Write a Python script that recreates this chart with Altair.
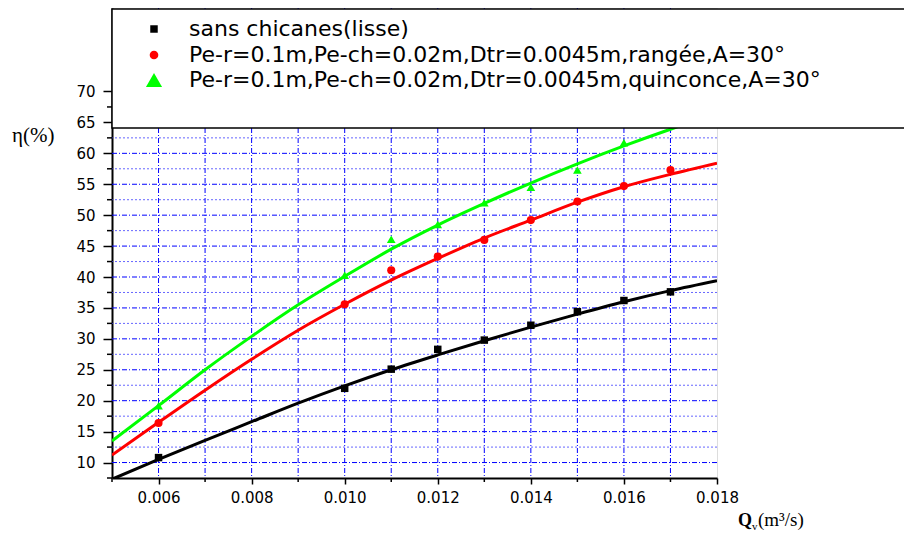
import altair as alt
import pandas as pd

# ---------------- data ----------------
series_names = [
    "sans chicanes(lisse)",
    "Pe-r=0.1m,Pe-ch=0.02m,Dtr=0.0045m,rangée,A=30°",
    "Pe-r=0.1m,Pe-ch=0.02m,Dtr=0.0045m,quinconce,A=30°",
]
series_colors = ["#000000", "#ff0000", "#00ff00"]
series_shapes = ["square", "circle", "triangle-up"]
series_sizes = [56, 75, 260]

# fitted curves
x_fit = [0.005, 0.006, 0.007, 0.008, 0.009, 0.010, 0.011,
         0.012, 0.013, 0.014, 0.015, 0.016, 0.017, 0.018]
black_fit = [7.3, 10.5, 13.6, 16.6, 19.6, 22.4, 25.0, 27.4, 29.7, 31.9, 34.0, 36.0, 37.8, 39.4]
red_fit = [11.2, 16.5, 21.7, 26.7, 31.4, 35.6, 39.5, 43.0, 46.3, 49.2, 52.1, 54.6, 56.6, 58.4]
green_fit = [13.5, 19.2, 25.0, 30.4, 35.5, 40.1, 44.5, 48.4, 51.9, 55.2, 58.3, 61.2, 63.9, 66.4]

# measured points
black_x = [0.006, 0.010, 0.011, 0.012, 0.013, 0.014, 0.015, 0.016, 0.017]
black_y = [10.8, 22.0, 25.1, 28.3, 29.8, 32.2, 34.4, 36.2, 37.6]
red_x = [0.006, 0.010, 0.011, 0.012, 0.013, 0.014, 0.015, 0.016, 0.017]
red_y = [16.4, 35.6, 41.1, 43.3, 46.0, 49.2, 52.2, 54.7, 57.3]
green_x = [0.006, 0.010, 0.011, 0.012, 0.013, 0.014, 0.015, 0.016]
green_y = [19.2, 40.3, 46.1, 48.5, 52.0, 54.5, 57.3, 61.7]

# axes / grid
x_major = [0.006, 0.008, 0.010, 0.012, 0.014, 0.016, 0.018]
x_minor = [0.005, 0.007, 0.009, 0.011, 0.013, 0.015, 0.017]
x_grid = [0.006, 0.007, 0.008, 0.009, 0.010, 0.011, 0.012, 0.013, 0.014, 0.015, 0.016, 0.017]
y_major = [10, 15, 20, 25, 30, 35, 40, 45, 50, 55, 60, 65, 70]
y_minor = [7.5, 12.5, 17.5, 22.5, 27.5, 32.5, 37.5, 42.5, 47.5, 52.5, 57.5, 62.5, 67.5]
y_grid_major = [10, 15, 20, 25, 30, 35, 40, 45, 50, 55, 60]
y_grid_minor = [12.5, 17.5, 22.5, 27.5, 32.5, 37.5, 42.5, 47.5, 52.5, 57.5, 62.5]

W, H = 605, 470

# ---------------- tables ----------------
fit_df = pd.DataFrame({
    "x": x_fit * 3,
    "y": black_fit + red_fit + green_fit,
    "s": [series_names[0]] * len(x_fit) + [series_names[1]] * len(x_fit) + [series_names[2]] * len(x_fit),
})
pts_df = pd.DataFrame({
    "x": black_x + red_x + green_x,
    "y": black_y + red_y + green_y,
    "s": [series_names[0]] * len(black_x) + [series_names[1]] * len(red_x) + [series_names[2]] * len(green_x),
})

xs = alt.Scale(domain=[0.005, 0.018], nice=False, zero=False)
ys = alt.Scale(domain=[7.5, 83.5], nice=False, zero=False)
cs = alt.Scale(domain=series_names, range=series_colors)
ss = alt.Scale(domain=series_names, range=series_shapes)
zs = alt.Scale(domain=series_names, range=series_sizes)

x_axis = alt.Axis(values=x_major, format=".3f", title=None, grid=False,
                  tickSize=6, tickWidth=1.5, tickColor="black",
                  domainWidth=2, domainColor="black",
                  labelFont="DejaVu Sans", labelFontSize=15, labelColor="black",
                  labelPadding=6, labelFlush=False, labelOverlap=False)
y_axis = alt.Axis(values=y_major, format="d", title=None, grid=False,
                  tickSize=9, tickWidth=1.5, tickColor="black",
                  domainWidth=2, domainColor="black",
                  labelFont="DejaVu Sans", labelFontSize=15, labelColor="black",
                  labelPadding=8, labelFlush=False, labelOverlap=False)


def X(field):
    return alt.X(field, scale=xs, axis=x_axis)


def Y(field):
    return alt.Y(field, scale=ys, axis=y_axis)


grid_v = alt.Chart(pd.DataFrame({"v": x_grid})).mark_rule(
    color="#0000ff", strokeWidth=1, strokeDash=[5, 2, 1, 2]
).encode(x=X("v:Q"))

grid_hM = alt.Chart(pd.DataFrame({"v": y_grid_major})).mark_rule(
    color="#0000ff", strokeWidth=1, strokeDash=[5, 2, 1, 2]
).encode(y=Y("v:Q"))

grid_hm = alt.Chart(pd.DataFrame({"v": y_grid_minor})).mark_rule(
    color="#3333ff", strokeWidth=1, strokeDash=[2, 2], opacity=0.75
).encode(y=Y("v:Q"))

minor_y = alt.Chart(pd.DataFrame({"v": y_minor})).mark_rule(
    color="black", strokeWidth=1.5
).encode(y=Y("v:Q"), x=alt.value(-5), x2=alt.value(0))

minor_x = alt.Chart(pd.DataFrame({"v": x_minor})).mark_rule(
    color="black", strokeWidth=1.5
).encode(x=X("v:Q"), y=alt.value(H), y2=alt.value(H + 4))

lines = alt.Chart(fit_df).mark_line(strokeWidth=3, clip=True, interpolate="monotone").encode(
    x=X("x:Q"),
    y=Y("y:Q"),
    color=alt.Color("s:N", scale=cs, legend=None),
    detail="s:N",
)

points = alt.Chart(pts_df).mark_point(filled=True, opacity=1).encode(
    x=X("x:Q"),
    y=Y("y:Q"),
    color=alt.Color("s:N", scale=cs, legend=None),
    shape=alt.Shape("s:N", scale=ss, legend=None),
    size=alt.Size("s:N", scale=zs, legend=None),
)

# legend box (drawn over the plot, as in the original)
box = alt.Chart(pd.DataFrame({"a": [0]})).mark_rect(
    fill="white", stroke="black", strokeWidth=1.5
).encode(x=alt.value(0), x2=alt.value(830), y=alt.value(1), y2=alt.value(120))

legend_layers = []
row_y = [21, 47, 72]
for i, name in enumerate(series_names):
    d = pd.DataFrame({"name": [name]})
    legend_layers.append(
        alt.Chart(d).mark_point(filled=True, opacity=1, shape=series_shapes[i],
                                size=series_sizes[i], color=series_colors[i])
        .encode(x=alt.value(42), y=alt.value(row_y[i]))
    )
    legend_layers.append(
        alt.Chart(d).mark_text(align="left", baseline="middle", font="DejaVu Sans",
                               fontSize=22, color="black")
        .encode(x=alt.value(77), y=alt.value(row_y[i]), text="name:N")
    )

titles_df = pd.DataFrame({"t": ["η(%)", "Q", "v", "(m³/s)"]})
y_title = alt.Chart(titles_df.iloc[[0]]).mark_text(
    align="left", baseline="middle", font="Liberation Serif", fontSize=21, color="black"
).encode(x=alt.value(-100), y=alt.value(128), text="t:N")
x_title_q = alt.Chart(titles_df.iloc[[1]]).mark_text(
    align="left", baseline="alphabetic", font="Liberation Serif", fontSize=18,
    fontWeight="bold", color="black"
).encode(x=alt.value(626), y=alt.value(518), text="t:N")
x_title_v = alt.Chart(titles_df.iloc[[2]]).mark_text(
    align="left", baseline="alphabetic", font="Liberation Serif", fontSize=11, color="black"
).encode(x=alt.value(640), y=alt.value(522), text="t:N")
x_title_rest = alt.Chart(titles_df.iloc[[3]]).mark_text(
    align="left", baseline="alphabetic", font="Liberation Serif", fontSize=19, color="black"
).encode(x=alt.value(646), y=alt.value(518), text="t:N")

chart = alt.layer(
    grid_hm, grid_hM, grid_v, minor_y, minor_x, lines, points, box,
    *legend_layers, y_title, x_title_q, x_title_v, x_title_rest
).properties(
    width=W, height=H,
    autosize=alt.AutoSizeParams(type="none"),
    padding={"left": 104, "top": 0, "right": 187, "bottom": 54},
).configure_view(stroke=None).configure(background="white")

chart.save("out.html", embed_options={"renderer": "svg", "actions": False})
